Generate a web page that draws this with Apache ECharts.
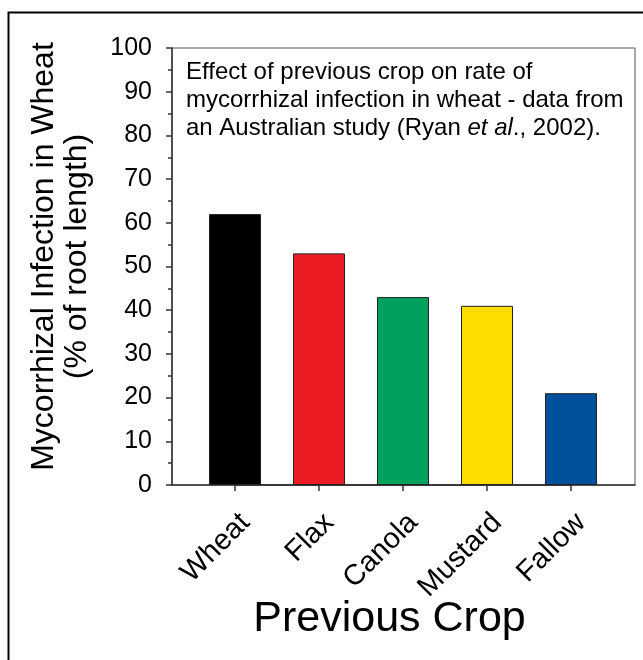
<!DOCTYPE html>
<html>
<head>
<meta charset="utf-8">
<script src="https://cdn.jsdelivr.net/npm/echarts@6/dist/echarts.min.js"></script>
<style>
html,body{margin:0;padding:0;background:#fff;}
#chart{width:643px;height:660px;}
</style>
</head>
<body>
<div id="chart"></div>
<script>
const categories = ['Wheat', 'Flax', 'Canola', 'Mustard', 'Fallow'];
const infection = [62, 53, 43, 41, 21];
const barColors = ['#000000', '#ED1C24', '#00A15F', '#FFDD00', '#00509D'];
const yMin = 0, yMax = 100, yStep = 10;
const yTitle = 'Mycorrhizal Infection in Wheat\n(% of root length)';
const xTitle = 'Previous Crop';
const noteLines = [
  'Effect of previous crop on rate of',
  'mycorrhizal infection in wheat - data from',
  'an Australian study (Ryan {i|et al}., 2002).'
];

const FONT = "'Liberation Sans', Arial, Helvetica, sans-serif";
const chart = echarts.init(document.getElementById('chart'), null, {renderer: 'canvas'});

chart.setOption({
  backgroundColor: '#ffffff',
  animation: false,
  grid: [
    {left: 172, right: 8, top: 48, bottom: 175, show: true, borderColor: '#555', borderWidth: 1, backgroundColor: 'transparent'},
    {left: 235, right: 72, top: 48, bottom: 175}
  ],
  xAxis: [
    {
      gridIndex: 0, type: 'value', min: 0, max: 1,
      axisLine: {show: true, lineStyle: {color: '#333', width: 1.5}},
      axisTick: {show: false}, axisLabel: {show: false}, splitLine: {show: false},
      name: xTitle, nameLocation: 'middle', nameGap: 113,
      nameTextStyle: {fontFamily: FONT, fontSize: 43, color: '#000', padding: [0, 28, 0, 0]}
    },
    {
      gridIndex: 1, type: 'category', data: categories, boundaryGap: false,
      axisLine: {show: true, lineStyle: {color: '#333', width: 1.5}},
      axisTick: {show: true, length: 6, lineStyle: {color: '#333', width: 1.5}},
      axisLabel: {interval: 0, rotate: 45, margin: 23, verticalAlign: 'top', fontFamily: FONT, fontSize: 29, color: '#000'},
      splitLine: {show: false}
    }
  ],
  yAxis: [
    {
      gridIndex: 0, type: 'value', min: yMin, max: yMax, interval: yStep,
      axisLine: {show: true, lineStyle: {color: '#333', width: 1.5}},
      axisTick: {show: true, inside: false, length: 6, lineStyle: {color: '#333', width: 1.5}},
      minorTick: {show: true, splitNumber: 2, length: 4, lineStyle: {color: '#333', width: 1.5}},
      axisLabel: {margin: 20, fontFamily: FONT, fontSize: 25, color: '#000'},
      splitLine: {show: false},
      name: yTitle, nameLocation: 'middle', nameGap: 78, nameRotate: 90,
      nameTextStyle: {fontFamily: FONT, fontSize: 32, lineHeight: 33, color: '#000', align: 'center', padding: [0, 0, 0, 20]}
    },
    {gridIndex: 1, type: 'value', min: yMin, max: yMax, show: false}
  ],
  series: [{
    type: 'bar',
    xAxisIndex: 1, yAxisIndex: 1,
    barWidth: 52,
    data: infection.map((v, i) => ({value: v, itemStyle: {color: barColors[i]}})),
    itemStyle: {borderColor: '#222', borderWidth: 1}
  }],
  graphic: [
    {
      type: 'rect', left: 6, top: 10, silent: true,
      shape: {width: 700, height: 700},
      style: {fill: 'none', stroke: '#000', lineWidth: 2}
    },
    {
      type: 'text', left: 186, top: 58, silent: true,
      style: {
        text: noteLines.join('\n'),
        fontFamily: FONT, fontSize: 24, lineHeight: 28, fill: '#000',
        rich: {i: {fontStyle: 'italic', fontFamily: FONT, fontSize: 24, lineHeight: 28, fill: '#000'}}
      }
    }
  ]
});
</script>
</body>
</html>
